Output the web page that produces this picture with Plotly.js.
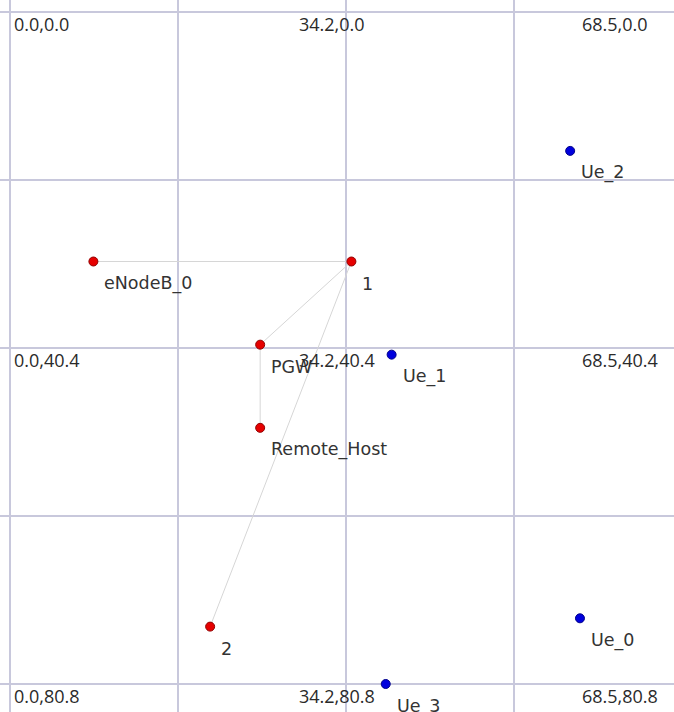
<!DOCTYPE html>
<html>
<head>
<meta charset="utf-8">
<script src="https://cdn.plot.ly/plotly-3.0.1.min.js"></script>
<style>
html,body{margin:0;padding:0;background:#fff;}
#chart{width:674px;height:712px;}
</style>
</head>
<body>
<div id="chart"></div>
<script>
// Node data (NetAnim-style topology, x right, y down)
const nodeNames = ["eNodeB_0", "1", "PGW", "Remote_Host", "2", "Ue_0", "Ue_1", "Ue_2", "Ue_3"];
const nodeX     = [8.5, 34.8, 25.5, 25.5, 20.4, 58.1, 38.9, 57.1, 38.3];
const nodeY     = [30.0, 30.0, 40.0, 50.0, 73.9, 72.9, 41.2, 16.7, 80.8];
const nodeKind  = ["net", "net", "net", "net", "net", "ue", "ue", "ue", "ue"];

// Links between nodes (by index)
const linkFrom = [0, 1, 1, 2];
const linkTo   = [1, 2, 4, 3];

// Grid coordinate labels
const gridXVals   = [0, 17.125, 34.25, 51.375, 68.5];
const gridYVals   = [0, 20.2, 40.4, 60.6, 80.8];
const labelRowsY  = [0, 40.4, 80.8];
const labelColsTx = ["0.0", "34.2", "68.5"];
const labelRowsTx = ["0.0", "40.4", "80.8"];

const traces = [];

// links
const lx = [], ly = [];
for (let i = 0; i < linkFrom.length; i++) {
  lx.push(nodeX[linkFrom[i]], nodeX[linkTo[i]], null);
  ly.push(nodeY[linkFrom[i]], nodeY[linkTo[i]], null);
}
traces.push({
  type: "scatter", mode: "lines", x: lx, y: ly,
  line: {color: "#d6d6d6", width: 1}, hoverinfo: "skip", showlegend: false
});

// nodes
const styles = {
  net: {color: "#e60000", line: "#900000"},
  ue:  {color: "#0000dd", line: "#00008a"}
};
["net", "ue"].forEach(k => {
  const idx = nodeKind.map((v, i) => v === k ? i : -1).filter(i => i >= 0);
  traces.push({
    type: "scatter", mode: "markers",
    x: idx.map(i => nodeX[i]), y: idx.map(i => nodeY[i]),
    text: idx.map(i => nodeNames[i]),
    marker: {size: 9, color: styles[k].color, line: {color: styles[k].line, width: 1}},
    hoverinfo: "text", showlegend: false
  });
});

const annotations = [];
// node labels
nodeNames.forEach((n, i) => {
  annotations.push({
    x: nodeX[i], y: nodeY[i], xref: "x", yref: "y", text: n, showarrow: false,
    xanchor: "left", yanchor: "middle", xshift: 9, yshift: -22,
    font: {family: "DejaVu Sans", size: 17.5, color: "#333333"}
  });
});
// grid coordinate labels (left edges of the text columns, in paper fraction)
const colLeftPaper = [12 / 674, 297 / 674, 580 / 674];
labelRowsY.forEach((yv, r) => {
  labelColsTx.forEach((tx, c) => {
    annotations.push({
      x: colLeftPaper[c], y: yv, xref: "paper", yref: "y",
      text: tx + "," + labelRowsTx[r], showarrow: false,
      xanchor: "left", yanchor: "middle", yshift: -12,
      font: {family: "Open Sans", size: 18, color: "#2a2a2a"}
    });
  });
});

const pxPerX = 672 / 68.5, pxPerY = 672 / 80.8;
const layout = {
  width: 674, height: 712,
  margin: {l: 0, r: 0, t: 0, b: 0},
  paper_bgcolor: "#ffffff", plot_bgcolor: "#ffffff",
  xaxis: {
    range: [-10 / pxPerX, (674 - 10) / pxPerX],
    tickvals: gridXVals, showticklabels: false, ticks: "",
    showgrid: true, gridcolor: "#c8c8dc", gridwidth: 1.5,
    zeroline: false, showline: false, fixedrange: true
  },
  yaxis: {
    range: [(712 - 12) / pxPerY, -12 / pxPerY],
    tickvals: gridYVals, showticklabels: false, ticks: "",
    showgrid: true, gridcolor: "#c8c8dc", gridwidth: 1.5,
    zeroline: false, showline: false, fixedrange: true
  },
  annotations: annotations,
  showlegend: false
};

Plotly.newPlot("chart", traces, layout, {displayModeBar: false, staticPlot: true});
</script>
</body>
</html>
